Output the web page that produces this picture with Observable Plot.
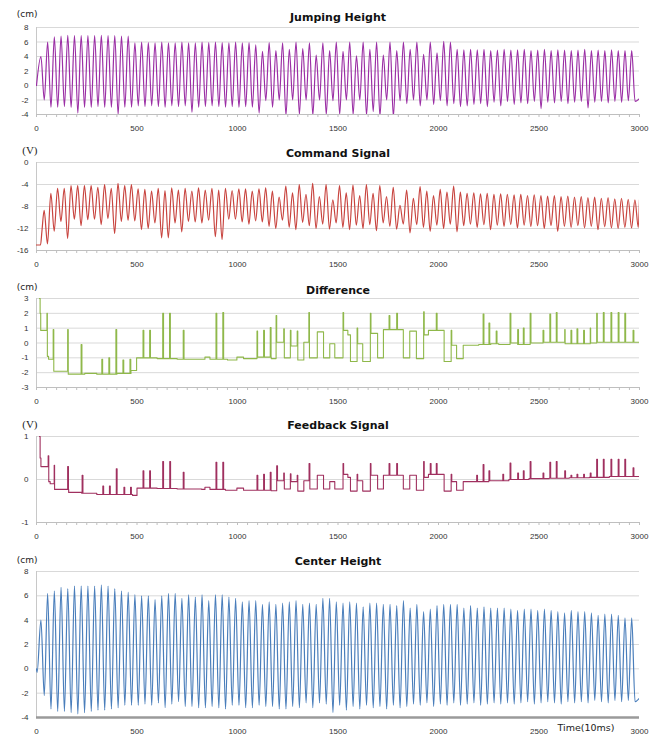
<!DOCTYPE html>
<html><head><meta charset="utf-8">
<script src="https://cdn.jsdelivr.net/npm/d3@7"></script>
<script src="https://cdn.jsdelivr.net/npm/@observablehq/plot@0.6"></script>
<style>
body{margin:0;background:#fff}
#chart{position:relative;width:656px;height:736px;background:#fff}
#chart svg{position:absolute;left:0}
</style>
</head><body><div id="chart"></div>
<script>
// ---- tick labels ----
const xTicks = [0, 500, 1000, 1500, 2000, 2500, 3000];
const xMinorTicks = d3.range(0, 3001, 50);
const jumpTicks = [-4, -2, 0, 2, 4, 6, 8];
const cmdTicks = [-16, -12, -8, -4, 0];
const diffTicks = [-3, -2, -1, 0, 1, 2, 3];
const fbTicks = [-1, 0, 1];
const centerTicks = [-4, -2, 0, 2, 4, 6, 8];

// ---- oscillation timing (~89 jumps in 3000 samples) ----
const cyclePeriod = 33.4;
const jumpFirstPeak = 22;
const cmdFirstPeak = 38;

// ---- Jumping Height (cm): value of each peak and following trough ----
const jumpPeaks = [4.0, 6.0, 6.7, 6.8, 6.9, 6.9, 6.9, 6.9, 6.9, 6.9, 6.9, 6.9, 6.8, 6.8,
  5.9, 6.0, 5.9, 5.9, 6.0, 5.9, 5.9, 6.0, 5.9, 5.9, 6.0, 5.9, 6.0, 5.9, 5.9, 6.0, 5.9, 5.9,
  5.6, 4.7, 5.9, 4.8, 5.9, 5.0, 6.0, 5.1, 5.9, 4.2, 5.9, 4.8, 6.0, 4.7, 6.0, 4.1, 6.0, 5.0, 6.0, 4.2, 6.0, 4.8, 6.0, 5.0, 6.0, 4.3, 6.0, 4.5, 6.1, 6.0,
  5.0, 4.9, 5.0, 4.9, 5.0, 4.8, 4.9, 5.0, 4.9, 4.9, 5.0, 4.8, 4.9, 5.0, 4.8, 4.9, 4.9, 4.8, 4.9, 5.0, 4.8, 4.9, 4.8, 4.9, 4.8, 4.8, 4.8];
const jumpTroughs = [-2.0, -3.0, -3.0, -2.9, -3.0, -3.8, -3.0, -3.0, -2.9, -3.0, -3.0, -4.0, -3.0, -3.0,
  -2.8, -2.9, -2.8, -2.9, -3.0, -2.8, -2.9, -2.8, -3.7, -3.0, -2.9, -2.8, -2.9, -3.0, -2.9, -3.0, -2.9, -3.0,
  -3.8, -2.1, -3.0, -2.0, -4.1, -2.0, -4.0, -2.0, -4.1, -2.0, -4.0, -2.1, -4.0, -2.0, -4.0, -2.0, -4.1, -3.6, -4.2, -2.0, -4.3, -2.1, -2.5, -2.0, -2.8, -2.0, -2.6, -2.1, -2.8, -2.5,
  -2.9, -2.8, -2.6, -2.5, -2.9, -2.3, -2.8, -2.2, -2.6, -2.4, -2.5, -2.2, -3.2, -2.3, -2.4, -2.2, -2.5, -2.3, -2.2, -3.1, -2.3, -2.2, -2.4, -2.2, -2.3, -2.1, -2.2];
const jumpStart = [[0, 0]];
const jumpEnd = [[3000, -1.8]];

// ---- Command Signal (V) ----
const cmdPeaks = [-8.7, -5.6, -4.7, -4.7, -4.2, -4.2, -4.2, -4.2, -4.5, -4.0, -4.7, -3.8, -4.2, -4.0, -4.8,
  -4.9, -5.2, -4.7, -5.1, -4.6, -5.0, -4.7, -5.2, -4.6, -5.0, -4.7, -5.0, -4.7, -5.1, -4.8, -4.8, -5.2,
  -4.8, -4.6, -5.2, -6.3, -4.3, -5.5, -4.0, -5.8, -3.8, -6.2, -4.0, -6.8, -4.2, -5.5, -4.1, -6.0, -4.0, -5.6, -4.2, -6.2, -4.5, -7.8, -5.0, -6.5, -4.4, -5.2, -6.0, -4.9, -5.4, -4.3,
  -5.4, -5.6, -5.5, -5.7, -5.6, -5.8, -5.7, -5.8, -5.9, -5.8, -6.0, -5.9, -6.0, -6.1, -6.0, -6.2, -6.1, -6.3, -6.2, -6.4, -6.3, -6.5, -6.4, -6.6, -6.5, -6.7, -6.8];
const cmdTroughs = [-14.8, -12.5, -10.7, -13.8, -10.3, -11.5, -10.4, -10.3, -11.3, -10.2, -12.9, -10.7, -10.5, -10.6, -12.2,
  -12.0, -11.0, -13.7, -13.7, -11.0, -12.6, -10.7, -10.8, -11.0, -10.5, -13.5, -14.0, -10.3, -10.3, -10.8, -11.2, -10.6,
  -10.8, -11.6, -12.0, -10.5, -11.8, -12.2, -10.9, -11.5, -12.0, -11.2, -12.1, -11.0, -11.8, -12.2, -11.4, -12.0, -11.3, -12.4, -11.0, -11.6, -12.1, -11.2, -12.8, -11.3, -11.8, -12.5, -11.4, -12.0, -11.2, -12.6,
  -11.5, -11.2, -11.8, -11.3, -12.2, -11.4, -11.6, -11.3, -11.9, -11.4, -11.6, -11.5, -12.0, -11.5, -12.5, -11.6, -11.8, -11.5, -11.9, -11.6, -12.2, -11.7, -11.9, -12.0, -11.8, -11.9, -11.8];
const cmdStart = [[0, -15], [20, -15], [27, -12.5]];
const cmdEnd = [[3000, -6.8]];

// ---- Difference (cm): step levels [time, level] and spikes [time, top] ----
const diffSteps = [[15, 3], [18, 2], [21, 0.85], [54, -0.9], [60, -1.1], [86, -1.9], [158, -2.1], [240, -2.05], [300, -2.1], [400, -2.05], [470, -1.85], [498, -1.0],
  [600, -1.05], [700, -1.1], [838, -0.95], [863, -1.1], [950, -1.15], [997, -0.95], [1030, -1.05], [1100, -0.95], [1168, -1.05], [1195, 0.05], [1233, -1.0],
  [1266, -0.2], [1300, -1.15], [1330, 0.05], [1358, -1.0], [1397, 0.75], [1428, -1.0], [1459, -0.05], [1484, -1.0], [1528, 0.85], [1549, 0.55], [1562, -1.25],
  [1598, -0.05], [1623, -1.25], [1664, 0.65], [1697, -1.0], [1726, 0.9], [1825, -1.0], [1857, 0.8], [1890, -1.05], [1929, 0.55], [1950, 0.85], [2028, -1.25],
  [2066, -0.15], [2090, -1.05], [2123, -0.15], [2200, -0.1], [2260, -0.05], [2300, -0.1], [2360, 0.0], [2394, -0.1], [2460, 0.0], [2520, 0.05], [2630, -0.05],
  [2700, -0.05], [2757, 0.0], [2790, 0.05]];
const diffSpikes = [[52, 2.0], [83, 0.9], [155, 0.9], [222, -0.1], [325, -1.1], [360, -1.0], [395, 0.9], [430, -1.15], [465, -1.1], [530, 0.85], [563, 0.85],
  [628, 2.0], [662, 2.0], [730, 0.85], [893, 2.0], [927, 2.05], [1097, 0.8], [1130, 0.85], [1163, 1.05], [1192, 1.85], [1230, 0.95], [1263, 0.85], [1297, 0.8],
  [1355, 2.05], [1525, 2.05], [1595, 1.0], [1661, 2.0], [1754, 1.85], [1792, 2.0], [1926, 2.1], [1989, 2.0], [2063, 0.85], [2222, 1.95], [2251, 1.35], [2287, 0.8],
  [2356, 2.0], [2394, 0.9], [2422, 1.0], [2456, 2.0], [2520, 0.85], [2554, 1.95], [2586, 2.05], [2628, 0.9], [2659, 0.85], [2689, 0.95], [2722, 0.85], [2755, 1.0],
  [2787, 2.0], [2820, 2.05], [2858, 2.05], [2894, 2.05], [2927, 2.0], [2968, 0.85]];

// ---- Feedback Signal (V) ----
const fbSteps = [[15, 1.0], [18, 0.5], [22, 0.3], [61, -0.05], [68, -0.1], [90, -0.23], [160, -0.3], [225, -0.32], [300, -0.35], [478, -0.37], [500, -0.2],
  [600, -0.21], [700, -0.22], [822, -0.23], [838, -0.18], [863, -0.23], [940, -0.25], [997, -0.2], [1030, -0.25], [1168, -0.26], [1199, -0.03], [1233, -0.22],
  [1266, -0.05], [1300, -0.27], [1330, -0.03], [1360, -0.22], [1397, 0.1], [1428, -0.22], [1459, -0.05], [1484, -0.22], [1528, 0.12], [1549, 0.05], [1562, -0.27],
  [1598, -0.03], [1623, -0.27], [1664, 0.1], [1697, -0.22], [1726, 0.1], [1825, -0.22], [1857, 0.1], [1890, -0.25], [1929, 0.05], [1950, 0.12], [2028, -0.27],
  [2066, -0.05], [2090, -0.25], [2123, -0.05], [2250, -0.03], [2350, 0.0], [2450, 0.02], [2550, 0.03], [2650, 0.04], [2750, 0.05], [2850, 0.07]];
const fbSpikes = [[58, 0.55], [88, 0.33], [155, 0.3], [227, 0.1], [330, -0.15], [363, -0.15], [397, 0.25], [435, -0.18], [468, -0.18], [530, 0.2], [563, 0.2],
  [628, 0.42], [663, 0.42], [730, 0.17], [893, 0.4], [927, 0.4], [1097, 0.1], [1130, 0.12], [1163, 0.17], [1195, 0.32], [1230, 0.15], [1263, 0.13], [1297, 0.1],
  [1356, 0.37], [1525, 0.37], [1595, 0.12], [1661, 0.37], [1754, 0.37], [1792, 0.37], [1926, 0.42], [1959, 0.37], [1989, 0.37], [2063, 0.12], [2190, 0.1],
  [2222, 0.35], [2251, 0.2], [2320, 0.12], [2356, 0.38], [2394, 0.15], [2422, 0.2], [2456, 0.42], [2520, 0.15], [2554, 0.4], [2586, 0.42], [2628, 0.2],
  [2659, 0.1], [2689, 0.12], [2722, 0.12], [2755, 0.15], [2787, 0.47], [2820, 0.47], [2858, 0.47], [2894, 0.47], [2927, 0.47], [2968, 0.27]];

// ---- Center Height (cm) ----
const centerPeaks = [4.0, 6.2, 6.4, 6.7, 6.6, 6.8, 6.8, 6.8, 6.8, 6.9, 6.8, 6.6, 6.4, 6.3, 6.1, 6.0, 6.0, 5.7, 6.0, 6.2,
  6.2, 5.8, 6.1, 5.9, 6.1, 5.6, 6.1, 6.1, 5.9, 5.8, 5.5, 5.6, 5.6, 5.3, 5.5, 5.3, 5.4, 5.5, 5.6, 5.3, 5.4, 5.3, 5.8,
  5.8, 5.5, 5.4, 5.5, 5.4, 5.1, 5.4, 5.4, 5.3, 5.3, 5.2, 5.6, 5.0, 5.3, 4.7, 4.9, 5.2, 5.3, 5.3, 5.3,
  5.0, 5.2, 5.0, 5.1, 5.0, 5.0, 5.0, 4.9, 4.8, 4.9, 4.9, 4.8, 4.9, 4.8, 4.7, 4.6, 4.8, 4.7, 4.7, 4.6,
  4.4, 4.5, 4.5, 4.4, 4.2, 4.2];
const centerTroughs = [-2.2, -3.3, -3.5, -3.5, -3.6, -3.7, -3.6, -3.5, -3.4, -3.4, -3.3, -3.2, -3.0, -3.0, -3.0,
  -2.9, -3.0, -2.8, -3.2, -2.9, -2.7, -3.1, -3.1, -3.2, -3.2, -3.1, -3.2, -3.3, -3.0, -3.0,
  -3.2, -3.2, -3.0, -3.1, -3.1, -3.3, -3.3, -3.1, -3.2, -2.8, -3.2, -2.8, -2.9, -3.6, -3.0, -3.4, -3.1, -3.3, -3.0, -3.2,
  -3.1, -3.3, -3.0, -3.2, -3.1, -2.9, -3.0, -2.8, -3.1, -2.9, -3.0, -2.8, -3.0, -2.9, -2.8, -3.0, -2.9, -2.8, -2.9, -2.8,
  -2.9, -2.8, -2.7, -2.9, -2.8, -2.7, -2.8, -2.9, -2.7, -2.8, -2.7, -2.8, -2.6, -2.7, -2.8, -2.6, -2.7, -2.6, -2.7];
const centerStart = [[0, 0], [3, -0.3]];
const centerEnd = [[3000, -2.4]];

// ---- builders ----
function oscillation(start, firstPeak, peaks, troughs, end) {
  const pts = start.map(([t, v]) => ({t, v}));
  peaks.forEach((p, k) => {
    const tp = firstPeak + k * cyclePeriod;
    pts.push({t: tp, v: p});
    if (k < troughs.length) pts.push({t: tp + cyclePeriod / 2, v: troughs[k]});
  });
  end.forEach(([t, v]) => pts.push({t, v}));
  return pts.filter(d => d.t <= 3000);
}
function stepSeries(steps, spikes) {
  const levelAt = t => { let v = steps[0][1]; for (const [s, l] of steps) if (s <= t) v = l; return v; };
  const pts = steps.map(([t, v]) => ({t, v}));
  for (const [t, top] of spikes) { pts.push({t, v: top}); pts.push({t: t + 4, v: levelAt(t + 4)}); }
  pts.push({t: 3000, v: levelAt(3000)});
  pts.sort((a, b) => a.t - b.t);
  return pts;
}

const chart = document.getElementById("chart");
function panel(o) {
  const svg = Plot.plot({
    width: 656, height: o.height,
    marginLeft: 36, marginRight: 17, marginTop: o.marginTop, marginBottom: o.marginBottom,
    style: {fontFamily: "'Liberation Sans', Arial, sans-serif", fontSize: "8px", color: "#333", background: "transparent", overflow: "visible"},
    x: {domain: [0, 3000]},
    y: {domain: o.yDomain},
    marks: [
      Plot.gridY(o.yTicks, {stroke: "#d9d9d9", strokeOpacity: 1}),
      Plot.ruleX([0], {stroke: "#c8c8c8"}),
      o.baseBar ? Plot.ruleY([o.yDomain[0]], {stroke: "#9a9a9a", strokeWidth: 2.5})
                : Plot.ruleY([o.yDomain[0]], {stroke: "#bfbfbf"}),
      o.baseBar ? null : Plot.axisX(xMinorTicks, {tickSize: 3, tickFormat: () => "", stroke: "#bfbfbf", label: null}),
      Plot.axisX(xTicks, {tickSize: 0, tickPadding: 11, tickFormat: String, label: null}),
      Plot.axisY(o.yTicks, {tickSize: 0, tickPadding: 8, tickFormat: String, label: null}),
      Plot.line(o.data, {x: "t", y: "v", stroke: o.color, strokeWidth: o.width || 1.1, curve: o.curve, clip: true}),
      Plot.text([o.title], {text: d => d, frameAnchor: "top", dy: o.titleDy, fontFamily: "DejaVu Sans", fontWeight: "bold", fontSize: 11, fill: "#111"}),
      Plot.text([o.unit], {text: d => d, frameAnchor: "top-left", textAnchor: "end", dx: 1, dy: o.unitDy, fontFamily: o.unitFont, fontSize: o.unitSize, fill: "#222"}),
      ...(o.extra || [])
    ]
  });
  svg.style.top = o.top + "px";
  chart.appendChild(svg);
}

panel({top: 0, height: 138, marginTop: 27, marginBottom: 24, yDomain: [-4, 8], yTicks: jumpTicks,
  data: oscillation(jumpStart, jumpFirstPeak, jumpPeaks, jumpTroughs, jumpEnd), curve: "monotone-x", color: "#9b2fa5", width: 1.2,
  title: "Jumping Height", titleDy: -14, unit: "(cm)", unitDy: -17, unitFont: "DejaVu Sans", unitSize: 9});
panel({top: 138, height: 136, marginTop: 24, marginBottom: 24, yDomain: [-16, 0], yTicks: cmdTicks,
  data: oscillation(cmdStart, cmdFirstPeak, cmdPeaks, cmdTroughs, cmdEnd), curve: "monotone-x", color: "#c8443f", width: 1.2,
  title: "Command Signal", titleDy: -13, unit: "(V)", unitDy: -16, unitFont: "'Liberation Serif', serif", unitSize: 11});
panel({top: 274, height: 137, marginTop: 24, marginBottom: 24, yDomain: [-3, 3], yTicks: diffTicks,
  data: stepSeries(diffSteps, diffSpikes), curve: "step-after", color: "#8fb84a",
  title: "Difference", titleDy: -12, unit: "(cm)", unitDy: -15, unitFont: "DejaVu Sans", unitSize: 9});
panel({top: 411, height: 135, marginTop: 25, marginBottom: 24, yDomain: [-1, 1], yTicks: fbTicks,
  data: stepSeries(fbSteps, fbSpikes), curve: "step-after", color: "#a0305f",
  title: "Feedback Signal", titleDy: -15, unit: "(V)", unitDy: -16, unitFont: "'Liberation Serif', serif", unitSize: 11});
panel({top: 546, height: 190, marginTop: 25, marginBottom: 19, yDomain: [-4, 8], yTicks: centerTicks,
  data: oscillation(centerStart, jumpFirstPeak, centerPeaks, centerTroughs, centerEnd), curve: "monotone-x", color: "#4a7ebb", width: 1.2,
  title: "Center Height", titleDy: -14, unit: "(cm)", unitDy: -15, unitFont: "DejaVu Sans", unitSize: 9, baseBar: true,
  extra: [Plot.text(["Time(10ms)"], {text: d => d, x: () => 2734, frameAnchor: "bottom", dy: 13, fontFamily: "DejaVu Sans", fontSize: 9.5, fill: "#222"})]});
</script>
</body></html>
